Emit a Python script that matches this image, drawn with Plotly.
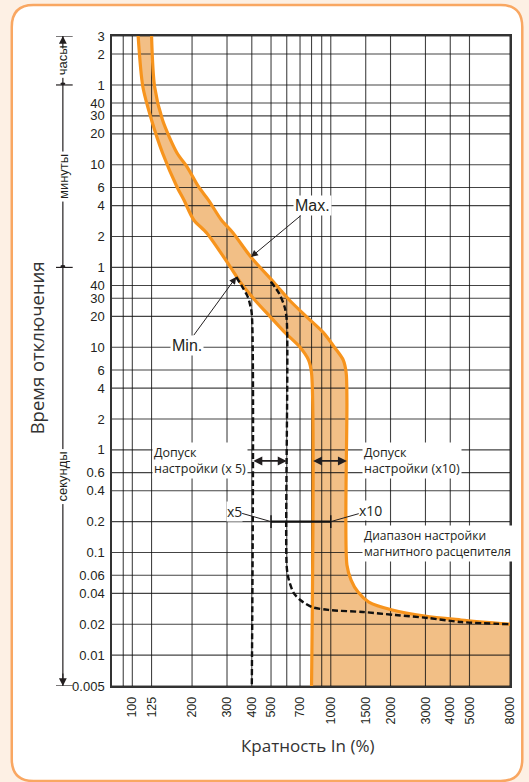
import math
import plotly.graph_objects as go

L = math.log10

# time axis (seconds) and the labels printed on it
y_ticks = [10800, 7200, 3600, 2400, 1800, 1200, 600, 360, 240, 120, 60,
           40, 30, 20, 10, 6, 4, 2, 1, 0.6, 0.4, 0.2, 0.1, 0.06, 0.04, 0.02, 0.01, 0.005]
y_labels = ['3', '2', '1', '40', '30', '20', '10', '6', '4', '2', '1',
            '40', '30', '20', '10', '6', '4', '2', '1', '0.6', '0.4', '0.2', '0.1',
            '0.06', '0.04', '0.02', '0.01', '0.005']

# multiple of In, %
x_ticks = [100, 125, 200, 300, 400, 500, 700, 1000, 1500, 2000, 3000, 4000, 5000, 8000]
x_grid_extra = [90, 600, 800, 900]

# unit bands on the left: hours / minutes / seconds
unit_bounds = [10800, 3600, 60, 0.005]
unit_names = ['часы', 'минуты', 'секунды']

# min tripping curve
min_x = [107, 113, 125, 142, 168, 182, 204, 237, 312, 353, 414, 497, 590, 700, 773, 800, 800]
min_t = [10800, 3460, 1640, 782, 365, 272, 174, 130, 60.5, 42, 28.9, 19.7, 13.8, 10, 7.5, 5.6, 0.005]

# max tripping curve
max_x = [125, 129.5, 142, 168, 189, 216, 242, 281, 322, 396, 520, 618, 758, 920, 1043, 1156,
         1196, 1206, 1206, 1266, 1372, 1555, 2044, 2977, 4539, 8000]
max_t = [10800, 3460, 1640, 782, 571, 365, 272, 174, 130, 75.7, 42.3, 28.9, 19.7, 13.8, 10, 7.5,
         5.6, 3, 0.0754, 0.0539, 0.0411, 0.0329, 0.0275, 0.024, 0.022, 0.020]

# x5 setting, tolerance limits (dashed)
x5lo_x = [334, 361, 382, 392, 400, 400]
x5lo_t = [48.4, 37.8, 30.9, 26, 21, 0.005]
x5hi_x = [499, 549, 585, 600, 600, 615, 651, 702, 803, 985, 1452, 2115, 3081, 4539, 8000]
x5hi_t = [43.5, 33.5, 24.8, 18.4, 0.072, 0.0539, 0.0402, 0.0344, 0.0294, 0.0275, 0.0263,
          0.0246, 0.023, 0.021, 0.020]

# magnetic setting range at 0.2 s
rng_x = [500, 1000]
rng_t = [0.2, 0.2]
tol5_x = [400, 600]
tol10_x = [800, 1206]
tol_t = 0.78

X_LO, X_HI = 79, 8000
T_LO, T_HI = 0.005, 10800

ORANGE = '#F7941D'
FILL = '#F2BF86'
INK = '#231F20'
TICKF = 'Liberation Sans, Arial, sans-serif'
TEXTF = 'Open Sans, Noto Sans, sans-serif'

W, H = 529, 782
ML, MR, MT, MB = 112, 12, 36, 96
PW, PH = W - ML - MR, H - MT - MB


def px(x):
    return (x - ML) / PW


def py(y):
    return (H - MB - y) / PH


spl = dict(shape='spline', smoothing=0.8, simplify=False)

fig = go.Figure()

# orange band between the curves
fig.add_trace(go.Scatter(x=min_x, y=min_t, mode='lines', line=dict(width=0, **spl), hoverinfo='skip'))
fig.add_trace(go.Scatter(x=max_x, y=max_t, mode='lines', fill='tonexty', fillcolor=FILL,
                         line=dict(width=0, **spl), hoverinfo='skip'))
fig.add_trace(go.Scatter(x=[min_x[-1], max_x[-1], max_x[-1], min_x[-1]],
                         y=[T_LO, T_LO, max_t[-1], max_t[-1]], mode='lines', fill='toself',
                         fillcolor=FILL, line=dict(width=0), hoverinfo='skip'))

# grid drawn over the fill
gx, gy = [], []
for v in x_ticks + x_grid_extra:
    gx += [v, v, None]
    gy += [T_LO, T_HI, None]
for v in y_ticks:
    gx += [X_LO, X_HI, None]
    gy += [v, v, None]
fig.add_trace(go.Scatter(x=gx, y=gy, mode='lines', line=dict(color='rgba(15,15,15,0.78)', width=1.1),
                         hoverinfo='skip'))

# curves
fig.add_trace(go.Scatter(x=min_x, y=min_t, mode='lines', line=dict(color=ORANGE, width=3.2, **spl)))
fig.add_trace(go.Scatter(x=max_x, y=max_t, mode='lines', line=dict(color=ORANGE, width=3.2, **spl)))
for xs, ts in ((x5lo_x, x5lo_t), (x5hi_x, x5hi_t)):
    fig.add_trace(go.Scatter(x=xs, y=ts, mode='lines',
                             line=dict(color='#111', width=2.4, dash='6px,3px', **spl)))

fig.add_trace(go.Scatter(x=rng_x, y=rng_t, mode='lines+markers',
                         line=dict(color='#111', width=2.2),
                         marker=dict(symbol='line-ns-open', size=9, color='#111',
                                     line=dict(color='#111', width=1.4))))

ann = []
shapes = []

# rounded frame
bl, bt, br, bb, r = 10, 5, 529.5, 781, 22
path = (f"M {px(bl + r)},{py(bt)} L {px(br - r)},{py(bt)} Q {px(br)},{py(bt)} {px(br)},{py(bt + r)} "
        f"L {px(br)},{py(bb - r)} Q {px(br)},{py(bb)} {px(br - r)},{py(bb)} "
        f"L {px(bl + r)},{py(bb)} Q {px(bl)},{py(bb)} {px(bl)},{py(bb - r)} "
        f"L {px(bl)},{py(bt + r)} Q {px(bl)},{py(bt)} {px(bl + r)},{py(bt)} Z")
shapes.append(dict(type='path', path=path, xref='paper', yref='paper', layer='below',
                   fillcolor='white', line=dict(color='#F9A762', width=2.5)))

# left unit scale
dx = px(62)
shapes.append(dict(type='line', xref='paper', yref='y', x0=dx, x1=dx, y0=T_LO, y1=T_HI,
                   line=dict(color=INK, width=1.2)))
for v in unit_bounds:
    shapes.append(dict(type='line', xref='paper', yref='y', x0=px(55), x1=px(72), y0=v, y1=v,
                       line=dict(color=INK, width=1.2)))
for v in unit_bounds[1:-1]:
    shapes.append(dict(type='circle', xref='paper', yref='y', xsizemode='pixel', ysizemode='pixel',
                       xanchor=dx, yanchor=v, x0=-2.5, x1=2.5, y0=-2.5, y1=2.5,
                       fillcolor=INK, line=dict(width=0)))
for name, a, b in zip(unit_names, unit_bounds[:-1], unit_bounds[1:]):
    ann.append(dict(xref='paper', yref='y', x=dx, y=(L(a) + L(b)) / 2, text=name, textangle=-90,
                    xanchor='center', yanchor='middle', showarrow=False, bgcolor='white', borderpad=2,
                    font=dict(family=TICKF, size=13, color=INK)))
ann.append(dict(xref='paper', yref='y', x=dx, y=L(T_HI), ax=0, ay=14, text='', showarrow=True,
                arrowhead=2, arrowsize=1.3, arrowwidth=1.2, arrowcolor=INK))
ann.append(dict(xref='paper', yref='y', x=dx, y=L(T_LO), ax=0, ay=-14, text='', showarrow=True,
                arrowhead=2, arrowsize=1.3, arrowwidth=1.2, arrowcolor=INK))

# axis titles
ann.append(dict(xref='paper', yref='paper', x=px(35), y=py(348), text='Время отключения',
                xanchor='center', yanchor='middle', textangle=-90, showarrow=False,
                font=dict(family=TEXTF, size=18.5, color='#333')))
ann.append(dict(xref='paper', yref='paper', x=px(311), y=py(745), text='Кратность In (%)',
                xanchor='center', yanchor='middle', showarrow=False,
                font=dict(family=TEXTF, size=17, color='#333')))

# Max / Min pointers
lab = dict(xref='x', yref='y', axref='x', ayref='y', showarrow=True, arrowhead=2, arrowsize=1.4,
           arrowwidth=1, arrowcolor=INK, bgcolor='white', borderpad=1,
           font=dict(family=TICKF, size=16, color=INK))
ann.append(dict(lab, x=L(max_x[9]), y=L(max_t[9]), ax=L(811), ay=L(240), text='Max.'))
ann.append(dict(lab, x=L(x5lo_x[0]), y=L(x5lo_t[0]), ax=L(187.6), ay=L(10.5), text='Min.'))

# tolerance arrows
for xs in (tol5_x, tol10_x):
    ann.append(dict(xref='x', yref='y', axref='x', ayref='y', x=L(xs[1]), y=L(tol_t),
                    ax=L(xs[0]), ay=L(tol_t), text='', showarrow=True, arrowhead=2,
                    startarrowhead=2, arrowside='end+start', arrowsize=1, startarrowsize=1,
                    arrowwidth=1.8, arrowcolor=INK))

txt = dict(xref='x', yref='y', xanchor='left', yanchor='middle', align='left', showarrow=False,
           bgcolor='white', borderpad=1, font=dict(family=TEXTF, size=12.5, color=INK))
ann.append(dict(txt, x=L(125), y=L(tol_t), text='Допуск<br>настройки (x 5)'))
ann.append(dict(txt, x=L(1430), y=L(tol_t), text='Допуск<br>настройки (x10)'))
ann.append(dict(txt, x=L(1430), y=L(0.122), text='Диапазон настройки<br>магнитного расцепителя',
                font=dict(family=TEXTF, size=12, color=INK)))

lead = dict(xref='x', yref='y', axref='x', ayref='y', showarrow=True, arrowhead=0, arrowwidth=1,
            arrowcolor=INK, bgcolor='white', borderpad=0, font=dict(family=TEXTF, size=14, color=INK))
ann.append(dict(lead, x=L(rng_x[0]), y=L(rng_t[0]), ax=L(326), ay=L(0.253), text='x5'))
ann.append(dict(lead, x=L(rng_x[1]), y=L(rng_t[1]), ax=L(1590), ay=L(0.258), text='x10'))

fig.update_layout(width=W, height=H, margin=dict(l=ML, r=MR, t=MT, b=MB),
                  paper_bgcolor='#FDF0E4', plot_bgcolor='white', showlegend=False,
                  annotations=ann, shapes=shapes, font=dict(family=TICKF, color=INK))
fig.update_xaxes(type='log', range=[L(X_LO), L(X_HI)], tickmode='array', tickvals=x_ticks,
                 ticktext=[str(v) for v in x_ticks], tickangle=-90,
                 tickfont=dict(family=TICKF, size=12.5, color=INK), showgrid=False, zeroline=False,
                 showline=True, mirror=True, linecolor='#333', linewidth=1.5, ticks='',
                 ticklabelstandoff=4)
fig.update_yaxes(type='log', range=[L(T_LO), L(T_HI)], tickmode='array', tickvals=y_ticks,
                 ticktext=y_labels, tickfont=dict(family=TICKF, size=13, color=INK), showgrid=False,
                 zeroline=False, showline=True, mirror=True, linecolor='#333', linewidth=1.5,
                 ticks='', ticklabelstandoff=3)

fig.write_html("out.html", config={'displayModeBar': False},
               post_script="document.body.style.margin='0';document.body.style.overflow='hidden';")
